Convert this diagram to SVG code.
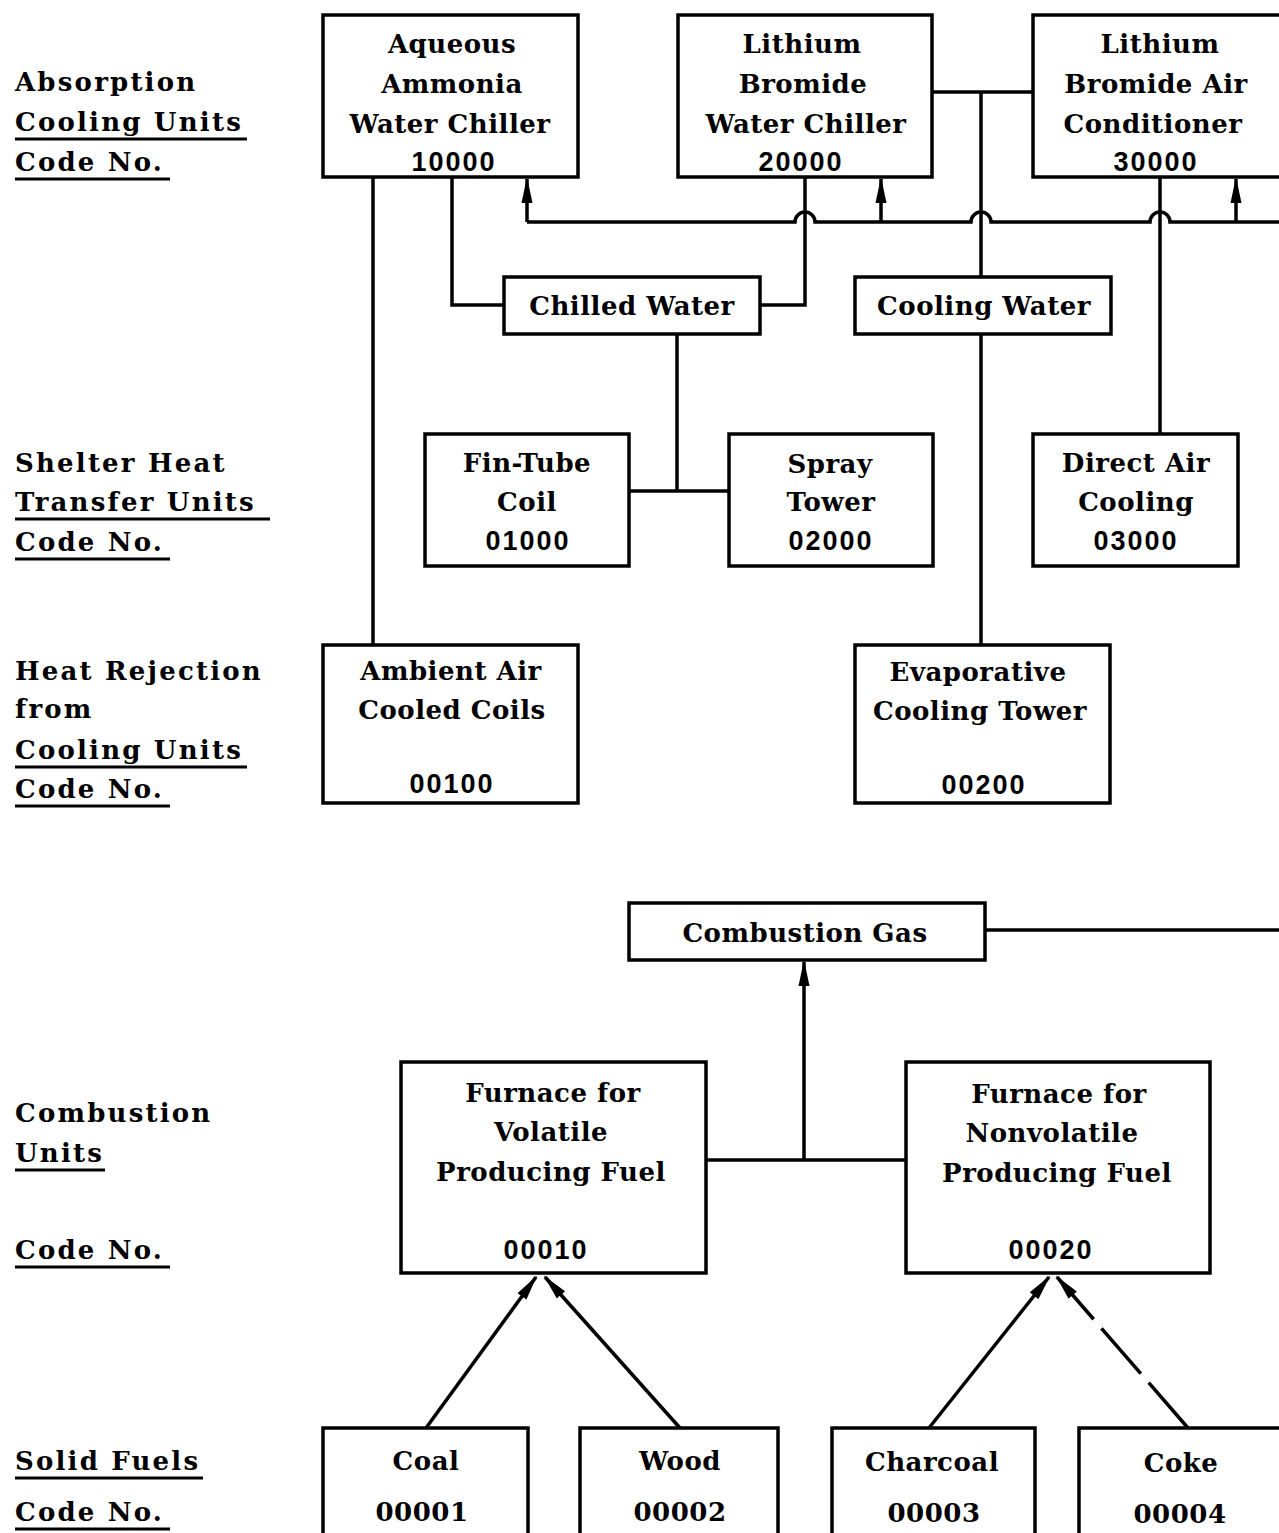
<svg xmlns="http://www.w3.org/2000/svg" width="1279" height="1533" viewBox="0 0 1279 1533">
<style>
.box{fill:#fff;stroke:#000;stroke-width:3.5}
.t{font-family:"DejaVu Serif","Liberation Serif",serif;font-size:26px;font-weight:bold;fill:#000;text-anchor:middle;letter-spacing:0.5px}
.n{font-family:"Liberation Sans","DejaVu Sans",sans-serif;font-size:27px;font-weight:bold;fill:#000;text-anchor:middle;letter-spacing:2px}
.lab{font-family:"DejaVu Serif","Liberation Serif",serif;font-size:26px;font-weight:bold;fill:#000;letter-spacing:2.2px}
.ul{stroke:#000;stroke-width:3}
.c{fill:none;stroke:#000;stroke-width:3.5}
</style>
<defs>
<marker id="ar" markerUnits="userSpaceOnUse" markerWidth="26" markerHeight="14" refX="24" refY="7" orient="auto">
<path d="M0,1.5 L26,7 L0,12.5 Z" fill="#000"/>
</marker>
</defs>
<rect width="1279" height="1533" fill="#fff"/>

<g id="labels">
<text class="lab" x="15" y="91">Absorption</text>
<text class="lab" x="15" y="131">Cooling Units</text>
<line class="ul" x1="15" y1="139" x2="247" y2="139"/>
<text class="lab" x="15" y="171">Code No.</text>
<line class="ul" x1="15" y1="179" x2="170" y2="179"/>
<text class="lab" x="15" y="472">Shelter Heat</text>
<text class="lab" x="15" y="511">Transfer Units</text>
<line class="ul" x1="15" y1="519" x2="270" y2="519"/>
<text class="lab" x="15" y="551">Code No.</text>
<line class="ul" x1="15" y1="559" x2="170" y2="559"/>
<text class="lab" x="15" y="680">Heat Rejection</text>
<text class="lab" x="15" y="718">from</text>
<text class="lab" x="15" y="759">Cooling Units</text>
<line class="ul" x1="15" y1="767" x2="247" y2="767"/>
<text class="lab" x="15" y="798">Code No.</text>
<line class="ul" x1="15" y1="806" x2="170" y2="806"/>
<text class="lab" x="15" y="1122">Combustion</text>
<text class="lab" x="15" y="1162">Units</text>
<line class="ul" x1="15" y1="1170" x2="105" y2="1170"/>
<text class="lab" x="15" y="1259">Code No.</text>
<line class="ul" x1="15" y1="1267" x2="170" y2="1267"/>
<text class="lab" x="15" y="1470">Solid Fuels</text>
<line class="ul" x1="15" y1="1478" x2="203" y2="1478"/>
<text class="lab" x="15" y="1521">Code No.</text>
<line class="ul" x1="15" y1="1529" x2="170" y2="1529"/>
</g>

<g id="connectors">
<line class="c" x1="373" y1="177" x2="373" y2="645"/>
<polyline class="c" points="452,177 452,305 504,305"/>
<polyline class="c" points="805,177 805,305 760,305"/>
<path class="c" d="M527,222 H795 A10,10 0 0 1 815,222 H971 A10,10 0 0 1 991,222 H1150 A10,10 0 0 1 1170,222 H1279"/>
<line class="c" x1="527" y1="222" x2="527" y2="179" marker-end="url(#ar)"/>
<line class="c" x1="881" y1="222" x2="881" y2="179" marker-end="url(#ar)"/>
<line class="c" x1="1236" y1="222" x2="1236" y2="179" marker-end="url(#ar)"/>
<line class="c" x1="932" y1="92" x2="1033" y2="92"/>
<line class="c" x1="981" y1="92" x2="981" y2="277"/>
<line class="c" x1="981" y1="334" x2="981" y2="645"/>
<line class="c" x1="1160" y1="177" x2="1160" y2="434"/>
<line class="c" x1="677" y1="334" x2="677" y2="491"/>
<line class="c" x1="629" y1="491" x2="729" y2="491"/>
<line class="c" x1="985" y1="930" x2="1279" y2="930"/>
<line class="c" x1="706" y1="1160" x2="906" y2="1160"/>
<line class="c" x1="804" y1="1160" x2="804" y2="962" marker-end="url(#ar)"/>
<line class="c" x1="426" y1="1428" x2="536" y2="1277" marker-end="url(#ar)"/>
<line class="c" x1="680" y1="1428" x2="545" y2="1277" marker-end="url(#ar)"/>
<line class="c" x1="929" y1="1428" x2="1049" y2="1277" marker-end="url(#ar)"/>
<line class="c" x1="1188" y1="1428" x2="1057" y2="1277" stroke-dasharray="60,12" marker-end="url(#ar)"/>
</g>

<g id="n10000">
<rect class="box" x="323" y="15" width="255" height="162"/>
<text class="t" x="452" y="53">Aqueous</text>
<text class="t" x="452" y="93">Ammonia</text>
<text class="t" x="450" y="133">Water Chiller</text>
<text class="n" x="454" y="171">10000</text>
</g>
<g id="n20000">
<rect class="box" x="678" y="15" width="254" height="162"/>
<text class="t" x="802" y="53">Lithium</text>
<text class="t" x="803" y="93">Bromide</text>
<text class="t" x="806" y="133">Water Chiller</text>
<text class="n" x="801" y="171">20000</text>
</g>
<g id="n30000">
<rect class="box" x="1033" y="15" width="260" height="162"/>
<text class="t" x="1160" y="53">Lithium</text>
<text class="t" x="1156" y="93">Bromide Air</text>
<text class="t" x="1153" y="133">Conditioner</text>
<text class="n" x="1156" y="171">30000</text>
</g>
<g id="chilled">
<rect class="box" x="504" y="277" width="256" height="57"/>
<text class="t" x="632" y="315">Chilled Water</text>
</g>
<g id="cooling">
<rect class="box" x="855" y="277" width="256" height="57"/>
<text class="t" x="984" y="315">Cooling Water</text>
</g>
<g id="n01000">
<rect class="box" x="425" y="434" width="204" height="132"/>
<text class="t" x="527" y="472">Fin-Tube</text>
<text class="t" x="527" y="511">Coil</text>
<text class="n" x="528" y="550">01000</text>
</g>
<g id="n02000">
<rect class="box" x="729" y="434" width="204" height="132"/>
<text class="t" x="830" y="473">Spray</text>
<text class="t" x="831" y="511">Tower</text>
<text class="n" x="831" y="550">02000</text>
</g>
<g id="n03000">
<rect class="box" x="1033" y="434" width="205" height="132"/>
<text class="t" x="1136" y="472">Direct Air</text>
<text class="t" x="1136" y="511">Cooling</text>
<text class="n" x="1136" y="550">03000</text>
</g>
<g id="n00100">
<rect class="box" x="323" y="645" width="255" height="158"/>
<text class="t" x="451" y="680">Ambient Air</text>
<text class="t" x="452" y="719">Cooled Coils</text>
<text class="n" x="452" y="793">00100</text>
</g>
<g id="n00200">
<rect class="box" x="855" y="645" width="255" height="158"/>
<text class="t" x="978" y="681">Evaporative</text>
<text class="t" x="980" y="720">Cooling Tower</text>
<text class="n" x="984" y="794">00200</text>
</g>
<g id="gas">
<rect class="box" x="629" y="903" width="356" height="57"/>
<text class="t" x="805" y="942">Combustion Gas</text>
</g>
<g id="n00010">
<rect class="box" x="401" y="1062" width="305" height="211"/>
<text class="t" x="553" y="1102">Furnace for</text>
<text class="t" x="551" y="1141">Volatile</text>
<text class="t" x="551" y="1181">Producing Fuel</text>
<text class="n" x="546" y="1259">00010</text>
</g>
<g id="n00020">
<rect class="box" x="906" y="1062" width="304" height="211"/>
<text class="t" x="1059" y="1103">Furnace for</text>
<text class="t" x="1052" y="1142">Nonvolatile</text>
<text class="t" x="1057" y="1182">Producing Fuel</text>
<text class="n" x="1051" y="1259">00020</text>
</g>
<g id="n00001">
<rect class="box" x="323" y="1428" width="205" height="110"/>
<text class="t" x="426" y="1470">Coal</text>
<text class="t" x="422" y="1521">00001</text>
</g>
<g id="n00002">
<rect class="box" x="580" y="1428" width="198" height="110"/>
<text class="t" x="680" y="1470">Wood</text>
<text class="t" x="680" y="1521">00002</text>
</g>
<g id="n00003">
<rect class="box" x="832" y="1428" width="203" height="110"/>
<text class="t" x="932" y="1471">Charcoal</text>
<text class="t" x="934" y="1522">00003</text>
</g>
<g id="n00004">
<rect class="box" x="1079" y="1428" width="215" height="110"/>
<text class="t" x="1181" y="1472">Coke</text>
<text class="t" x="1180" y="1523">00004</text>
</g>
</svg>
